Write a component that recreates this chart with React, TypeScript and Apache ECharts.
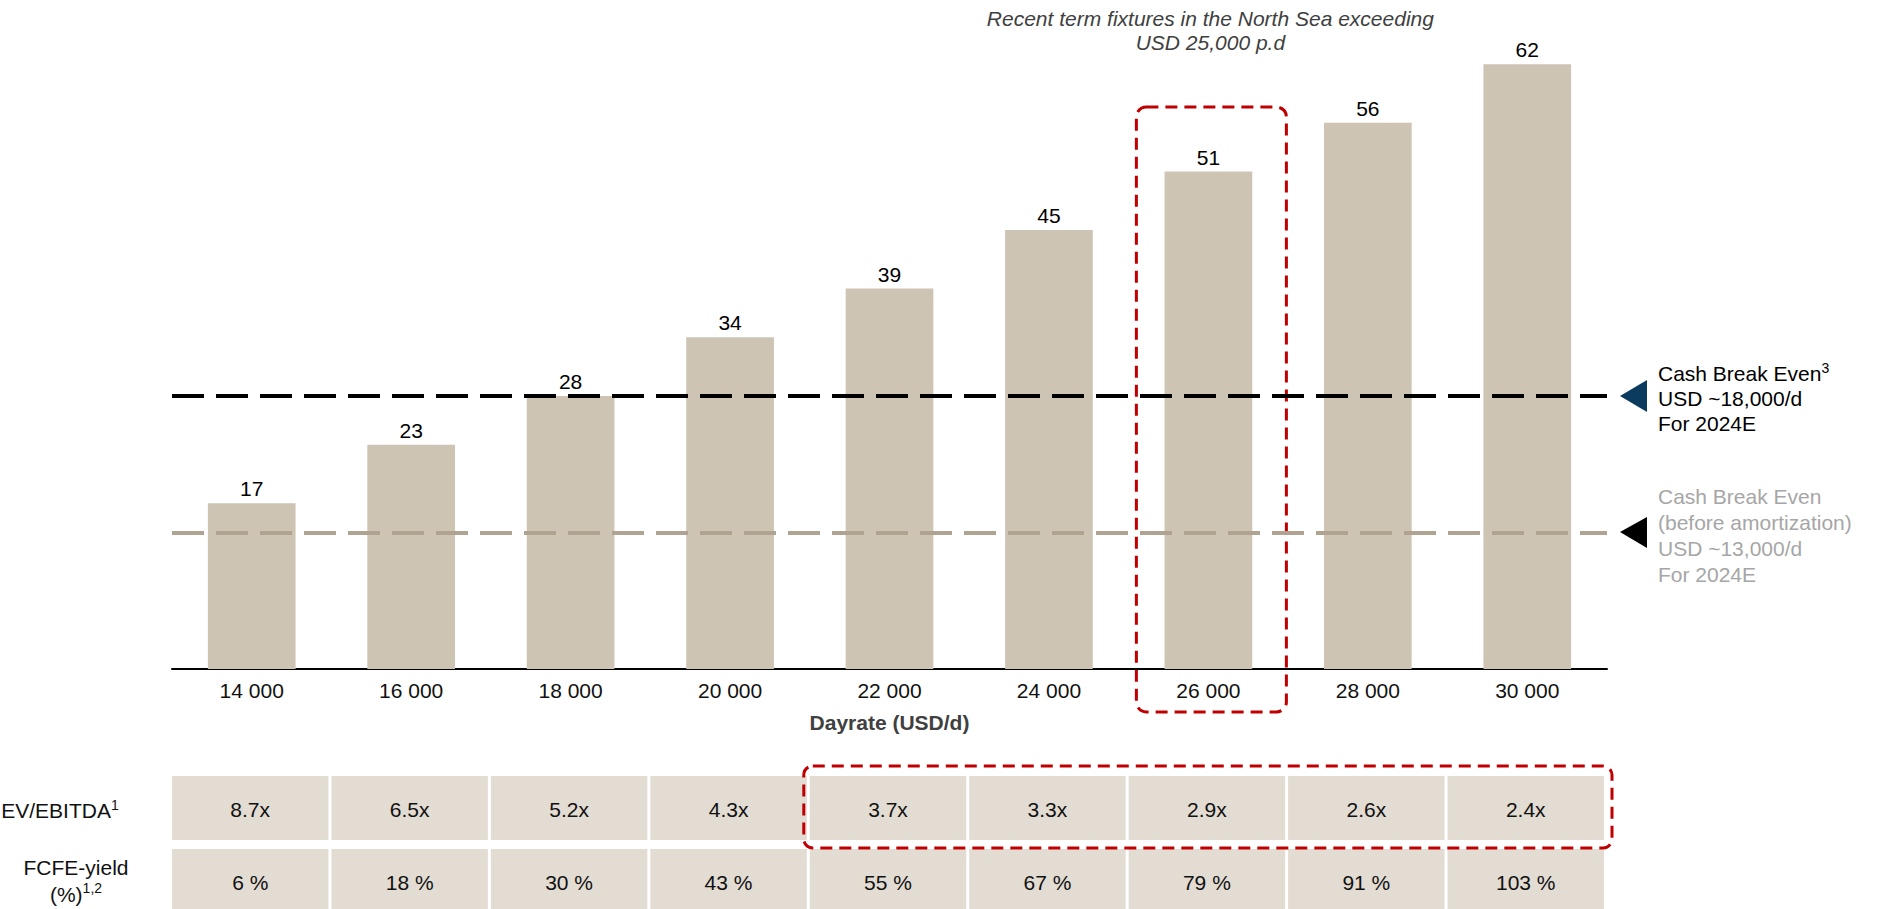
import React, { useEffect, useRef } from 'react';
import * as echarts from 'echarts';

// Dayrate scenarios (USD/d) and the value shown on each bar
const categories = ['14 000', '16 000', '18 000', '20 000', '22 000', '24 000', '26 000', '28 000', '30 000'];
const barValues = [17, 23, 28, 34, 39, 45, 51, 56, 62];

// Multiples table under the chart
const evEbitda = ['8.7x', '6.5x', '5.2x', '4.3x', '3.7x', '3.3x', '2.9x', '2.6x', '2.4x'];
const fcfeYield = ['6 %', '18 %', '30 %', '43 %', '55 %', '67 %', '79 %', '91 %', '103 %'];

// Break-even reference levels on the bar scale
const breakEvenLevel = 28;
const breakEvenBeforeAmortLevel = 14;

// Highlights: the 26 000 scenario and the table columns from 22 000 upwards
const highlightedCategory = '26 000';
const highlightedFromIndex = 4;

const FONT = '"Liberation Sans", Arial, Helvetica, sans-serif';
const FS = 21;
const BAR_COLOR = '#cdc4b4';
const CELL_COLOR = '#e2dcd3';
const RED = '#c00000';

const supRich = (color: string) => ({
  s: { fontSize: 14, fontFamily: FONT, fill: color, verticalAlign: 'top', lineHeight: 21 },
});

export default function App() {
  const ref = useRef<HTMLDivElement>(null);

  useEffect(() => {
    const chart = echarts.init(ref.current!, null, { renderer: 'svg' });
    const W = 1877;
    const grid = { left: 172, right: 270, top: 35, bottom: 240 };

    chart.setOption({
      animation: false,
      backgroundColor: '#ffffff',
      textStyle: { fontFamily: FONT },
      grid,
      xAxis: {
        type: 'category',
        data: categories,
        axisLine: { lineStyle: { color: '#000', width: 2 } },
        axisTick: { show: false },
        axisLabel: { color: '#111', fontSize: FS, margin: 11, fontFamily: FONT },
        name: 'Dayrate (USD/d)',
        nameLocation: 'middle',
        nameGap: 43,
        nameTextStyle: { color: '#404040', fontSize: FS, fontWeight: 'bold', fontFamily: FONT },
      },
      yAxis: {
        type: 'value',
        min: 0,
        max: 65,
        show: false,
        splitLine: { show: false },
      },
      series: [
        {
          type: 'bar',
          data: barValues,
          barCategoryGap: '45%',
          itemStyle: { color: BAR_COLOR },
          label: {
            show: true,
            position: 'top',
            distance: 4,
            color: '#000',
            fontSize: FS,
            fontFamily: FONT,
          },
          markLine: {
            silent: true,
            symbol: 'none',
            label: { show: false },
            data: [
              { yAxis: breakEvenBeforeAmortLevel, lineStyle: { color: '#b1a392', width: 4, type: [32, 12] } },
              { yAxis: breakEvenLevel, lineStyle: { color: '#000', width: 4, type: [32, 12] } },
            ],
          },
        },
      ],
    });

    const band = (W - grid.left - grid.right) / categories.length;
    const graphics: any[] = [];

    // Table rows
    const rows = [
      { values: evEbitda, y: 776, h: 64 },
      { values: fcfeYield, y: 849, h: 62 },
    ];
    categories.forEach((cat, i) => {
      const cx = chart.convertToPixel({ xAxisIndex: 0 }, cat) as number;
      const x0 = cx - band / 2;
      rows.forEach((row) => {
        graphics.push({
          type: 'rect',
          silent: true,
          shape: { x: x0, y: row.y, width: band - 3, height: row.h },
          style: { fill: CELL_COLOR },
        });
        graphics.push({
          type: 'text',
          silent: true,
          style: {
            text: row.values[i],
            x: x0 + (band - 3) / 2,
            y: row.y + 33,
            align: 'center',
            verticalAlign: 'middle',
            fill: '#111',
            font: `${FS}px ${FONT}`,
          },
        });
      });
    });

    // Row headers
    graphics.push({
      type: 'text',
      silent: true,
      style: {
        text: 'EV/EBITDA{s|1}',
        x: 60,
        y: 810,
        align: 'center',
        verticalAlign: 'middle',
        lineHeight: 25,
        fill: '#111',
        font: `${FS}px ${FONT}`,
        rich: supRich('#111'),
      },
    });
    graphics.push({
      type: 'text',
      silent: true,
      style: {
        text: 'FCFE-yield\n(%){s|1,2}',
        x: 76,
        y: 881,
        align: 'center',
        verticalAlign: 'middle',
        lineHeight: 27,
        fill: '#111',
        font: `${FS}px ${FONT}`,
        rich: supRich('#111'),
      },
    });

    // Red frame around the highlighted scenario
    const hx = chart.convertToPixel({ xAxisIndex: 0 }, highlightedCategory) as number;
    graphics.push({
      type: 'rect',
      silent: true,
      shape: { x: hx - 72, y: 107, width: 150, height: 605, r: 10 },
      style: { fill: 'none', stroke: RED, lineWidth: 3, lineDash: [12, 7] },
    });

    // Red frame around the highlighted table columns
    const fx = (chart.convertToPixel({ xAxisIndex: 0 }, categories[highlightedFromIndex]) as number) - band / 2;
    graphics.push({
      type: 'rect',
      silent: true,
      shape: { x: fx - 6, y: 766, width: W - grid.right - fx + 11, height: 82, r: 9 },
      style: { fill: 'none', stroke: RED, lineWidth: 3, lineDash: [12, 7] },
    });

    // Annotation above the highlighted bar
    graphics.push({
      type: 'text',
      silent: true,
      style: {
        text: 'Recent term fixtures in the North Sea exceeding\nUSD 25,000 p.d',
        x: hx + 2,
        y: 30,
        align: 'center',
        verticalAlign: 'middle',
        lineHeight: 24,
        fill: '#404040',
        font: `italic ${FS}px ${FONT}`,
      },
    });

    // Break-even legends on the right
    graphics.push({
      type: 'polygon',
      silent: true,
      shape: { points: [[1620, 396], [1647, 380], [1647, 412]] },
      style: { fill: '#0b3b5e' },
    });
    graphics.push({
      type: 'text',
      silent: true,
      style: {
        text: 'Cash Break Even{s|3}\nUSD ~18,000/d\nFor 2024E',
        x: 1658,
        y: 398,
        align: 'left',
        verticalAlign: 'middle',
        lineHeight: 25,
        fill: '#000',
        font: `${FS}px ${FONT}`,
        rich: supRich('#000'),
      },
    });
    graphics.push({
      type: 'polygon',
      silent: true,
      shape: { points: [[1620, 532], [1647, 517], [1647, 548]] },
      style: { fill: '#000' },
    });
    graphics.push({
      type: 'text',
      silent: true,
      style: {
        text: 'Cash Break Even\n(before amortization)\nUSD ~13,000/d\nFor 2024E',
        x: 1658,
        y: 535,
        align: 'left',
        verticalAlign: 'middle',
        lineHeight: 26,
        fill: '#a6a6a6',
        font: `${FS}px ${FONT}`,
      },
    });

    chart.setOption({ graphic: graphics });

    return () => chart.dispose();
  }, []);

  return (
    <div
      ref={ref}
      style={{ position: 'fixed', left: 0, top: 0, width: 1877, height: 909, background: '#fff' }}
    />
  );
}
